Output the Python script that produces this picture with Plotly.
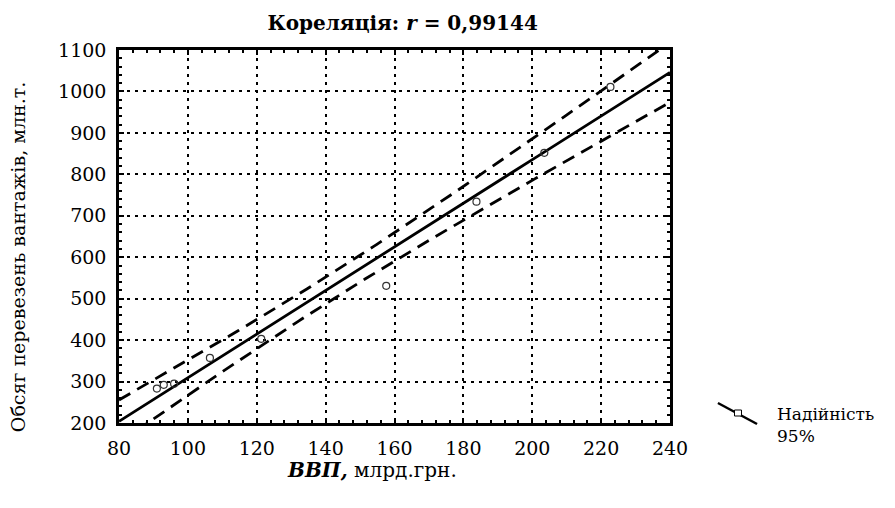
import numpy as np
import plotly.graph_objects as go

# Data
gdp = [91.0, 93.0, 96.0, 106.4, 121.3, 157.6, 183.8, 203.5, 222.7]        # ВВП, млрд.грн.
freight = [283, 292, 295, 357, 403, 531, 734, 852, 1011]                    # Обсяг перевезень, млн.т.
x_ticks = [80, 100, 120, 140, 160, 180, 200, 220, 240]
y_ticks = [200, 300, 400, 500, 600, 700, 800, 900, 1000, 1100]
T_975_DF7 = 2.3646  # Student t quantile for 95% band, n-2 = 7

x = np.array(gdp)
y = np.array(freight)
n = len(x)
slope, intercept = np.polyfit(x, y, 1)
resid = y - (slope * x + intercept)
s = np.sqrt(np.sum(resid ** 2) / (n - 2))
sxx = np.sum((x - x.mean()) ** 2)
xg = np.linspace(x_ticks[0], x_ticks[-1], 200)
yg = slope * xg + intercept
half = T_975_DF7 * s * np.sqrt(1 / n + (xg - x.mean()) ** 2 / sxx)

FONT = "DejaVu Serif"
fig = go.Figure()
fig.add_trace(go.Scatter(x=xg, y=yg + half, mode="lines",
                         line=dict(color="black", width=2.8, dash="13px,8px"), hoverinfo="skip"))
fig.add_trace(go.Scatter(x=xg, y=yg - half, mode="lines",
                         line=dict(color="black", width=2.8, dash="13px,8px"), hoverinfo="skip"))
fig.add_trace(go.Scatter(x=xg, y=yg, mode="lines",
                         line=dict(color="black", width=2.8), hoverinfo="skip"))
fig.add_trace(go.Scatter(x=gdp, y=freight, mode="markers",
                         marker=dict(symbol="circle-open", size=7, color="#333", line=dict(width=1.2))))

axis_common = dict(
    showline=True, linecolor="black", linewidth=2.5, mirror="allticks",
    ticks="inside", ticklen=5, tickwidth=2, tickcolor="black",
    showgrid=True, gridcolor="black", gridwidth=2.2, griddash="3px,5px",
    zeroline=False, automargin=False,
    tickfont=dict(family=FONT, size=19, color="black"),
)
fig.update_xaxes(range=[80, 240], tickvals=x_ticks, ticklabelstandoff=6,
                 minor=dict(dtick=4, ticks="inside", ticklen=3, tickwidth=1.5, tickcolor="black", showgrid=False),
                 **axis_common)
fig.update_yaxes(range=[200, 1100], tickvals=y_ticks, ticklabelstandoff=6,
                 minor=dict(dtick=20, ticks="inside", ticklen=3, tickwidth=1.5, tickcolor="black", showgrid=False),
                 **axis_common)

# legend-like key drawn at the right
shapes = [
    dict(type="line", xref="paper", yref="paper", x0=1.087, y0=0.0536, x1=1.158, y1=-0.0027,
         line=dict(color="black", width=2.5)),
    dict(type="rect", xref="paper", yref="paper", xsizemode="pixel", ysizemode="pixel",
         xanchor=1.1234, yanchor=0.0268, x0=-3.5, x1=3.5, y0=-3, y1=3,
         line=dict(color="black", width=1), fillcolor="white"),
]

fig.update_layout(
    width=895, height=508,
    margin=dict(l=111, r=233, t=42, b=93),
    paper_bgcolor="white", plot_bgcolor="white",
    showlegend=False,
    shapes=shapes,
    title=dict(text="<b>Кореляція: <i>r</i> = 0,99144</b>", x=0.441, xanchor="center", y=0.984, yanchor="top",
               pad=dict(t=0), font=dict(family=FONT, size=20, color="black")),
    annotations=[
        dict(text="Надійність<br>95%", xref="paper", yref="paper", x=1.19, y=-0.005,
             xanchor="left", yanchor="middle", align="left", showarrow=False,
             font=dict(family=FONT, size=17, color="black")),
        dict(text="<b><i>ВВП,</i></b> млрд.грн.", xref="paper", yref="paper", x=0.459, y=-0.126,
             xanchor="center", yanchor="middle", showarrow=False,
             font=dict(family=FONT, size=20, color="black")),
        dict(text="Обсяг перевезень вантажів, млн.т.", xref="paper", yref="paper", x=-0.183, y=0.445,
             xanchor="center", yanchor="middle", textangle=-90, showarrow=False,
             font=dict(family=FONT, size=19, color="black")),
    ],
)

fig.write_html("out.html")
